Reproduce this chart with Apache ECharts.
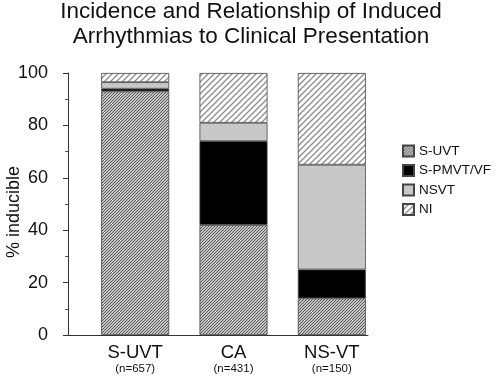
<!DOCTYPE html>
<html>
<head>
<meta charset="utf-8">
<script src="https://cdn.jsdelivr.net/npm/echarts@6/dist/echarts.min.js"></script>
<style>html,body{margin:0;padding:0;background:#fff}#c{width:500px;height:379px}</style>
</head>
<body>
<div id="c"></div>
<script>
var categories = ['S-UVT', 'CA', 'NS-VT'];
var groupSizes = ['(n=657)', '(n=431)', '(n=150)'];
var seriesNames = ['S-UVT', 'S-PMVT/VF', 'NSVT', 'NI'];
var sUVT = [93, 42, 14];
var sPMVT = [1, 32, 11];
var nsvt = [2.5, 7, 40];
var ni = [3.5, 19, 35];
var yTicks = [0, 20, 40, 60, 80, 100];

function hatch(size, bg, fg, lw) {
  var c = document.createElement('canvas');
  c.width = size; c.height = size;
  var g = c.getContext('2d');
  g.fillStyle = bg; g.fillRect(0, 0, size, size);
  g.strokeStyle = fg; g.lineWidth = lw;
  g.beginPath();
  g.moveTo(0, size); g.lineTo(size, 0);
  g.moveTo(-1, 1); g.lineTo(1, -1);
  g.moveTo(size - 1, size + 1); g.lineTo(size + 1, size - 1);
  g.stroke();
  return { image: c, repeat: 'repeat' };
}
function stipple() {
  var c = document.createElement('canvas');
  c.width = 4; c.height = 4;
  var g = c.getContext('2d');
  g.fillStyle = '#cacaca'; g.fillRect(0, 0, 4, 4);
  g.fillStyle = '#b9b9b9'; g.fillRect(0, 0, 1, 1); g.fillRect(2, 2, 1, 1);
  return { image: c, repeat: 'repeat' };
}

var fills = [hatch(3, '#c4c4c4', '#5a5a5a', 1), '#000000', stipple(), hatch(6, '#ffffff', '#8c8c8c', 1.3)];
var values = [sUVT, sPMVT, nsvt, ni];

var chart = echarts.init(document.getElementById('c'), null, { renderer: 'canvas' });
var FONT = "'Liberation Sans', Arial, Helvetica, sans-serif";

chart.setOption({
  animation: false,
  textStyle: { fontFamily: FONT },
  title: {
    text: 'Incidence and Relationship of Induced\nArrhythmias to Clinical Presentation',
    left: 246, top: -6, textAlign: 'center',
    textStyle: { fontSize: 22.5, fontWeight: 'normal', color: '#111', lineHeight: 25, fontFamily: FONT }
  },
  legend: {
    orient: 'vertical', left: 397, top: 139,
    itemWidth: 11, itemHeight: 11, itemGap: 5.5,
    icon: 'rect',
    data: seriesNames,
    textStyle: { fontSize: 13.5, color: '#111', fontFamily: FONT }
  },
  grid: [
    { left: 68, right: 132, top: 73, bottom: 44, outerBoundsMode: 'none', containLabel: false },
    { left: 86, right: 119, top: 73, bottom: 44, outerBoundsMode: 'none', containLabel: false }
  ],
  xAxis: [
    {
      gridIndex: 0, type: 'value', min: 0, max: 1,
      axisLine: { show: true, onZero: false, lineStyle: { color: '#333', width: 1 } },
      axisTick: { show: false }, axisLabel: { show: false }, splitLine: { show: false }
    },
    {
      gridIndex: 1, type: 'category', data: categories,
      axisLine: { show: false },
      axisTick: { show: false },
      axisLabel: {
        margin: 8,
        formatter: function (v, i) { return '{a|' + v + '}\n{b|' + groupSizes[i] + '}'; },
        rich: {
          a: { fontSize: 18.5, color: '#111', lineHeight: 19, fontFamily: FONT },
          b: { fontSize: 11.5, color: '#111', lineHeight: 13, fontFamily: FONT }
        }
      }
    }
  ],
  yAxis: [
    {
      gridIndex: 0, type: 'value', min: 0, max: 100, interval: 20,
      name: '% inducible', nameLocation: 'middle', nameGap: 45, nameMoveOverlap: false,
      nameTextStyle: { fontSize: 18, color: '#111', fontFamily: FONT, padding: [0, 16, 0, 0] },
      axisLine: { show: true, lineStyle: { color: '#333', width: 1 } },
      axisTick: { show: true, length: 5, lineStyle: { color: '#333' } },
      minorTick: { show: true, splitNumber: 2, length: 3, lineStyle: { color: '#555' } },
      splitLine: { show: false },
      axisLabel: {
        margin: 20, fontSize: 18, color: '#111', fontFamily: FONT,
        formatter: function (v) { return yTicks.indexOf(v) >= 0 ? String(v) : ''; }
      }
    },
    {
      gridIndex: 1, type: 'value', min: 0, max: 100, interval: 20, show: false
    }
  ],
  series: seriesNames.map(function (n, k) {
    return {
      name: n, type: 'bar', stack: 'all', barWidth: 68,
      xAxisIndex: 1, yAxisIndex: 1,
      data: values[k],
      itemStyle: { color: fills[k], borderColor: '#444', borderWidth: 0.8 }
    };
  })
});
</script>
</body>
</html>
